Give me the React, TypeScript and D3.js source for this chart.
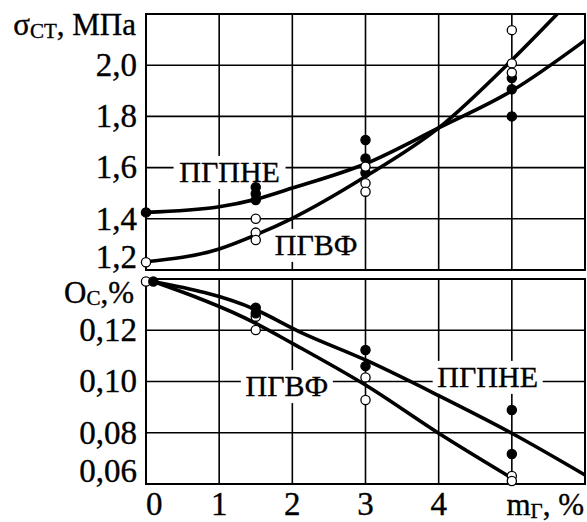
import React, { useEffect, useRef } from "react";
import * as d3 from "d3";

const width = 587;
const height = 522;

// x axis, mg %
const xTicks = [0, 1, 2, 3, 4];

// top panel: sigma_st, MPa
const stressTicks = [1.2, 1.4, 1.6, 1.8, 2.0];
const stressPgpneX = [0, 1.5, 1.5, 1.5, 3, 3, 3, 5, 5, 5];
const stressPgpneY = [1.425, 1.523, 1.498, 1.473, 1.708, 1.636, 1.58, 1.95, 1.906, 1.8];
const stressPgvfX = [0, 1.5, 1.5, 1.5, 3, 3, 3, 5, 5, 5];
const stressPgvfY = [1.23, 1.4, 1.346, 1.317, 1.604, 1.539, 1.506, 2.137, 2.007, 1.971];
const stressPgpneCurveX = [0, 1, 1.5, 2, 3, 4, 5, 6];
const stressPgpneCurveY = [1.425, 1.447, 1.476, 1.52, 1.615, 1.755, 1.9, 2.097];
const stressPgvfCurveX = [0, 1, 1.5, 2, 3, 4, 5, 5.62];
const stressPgvfCurveY = [1.232, 1.282, 1.337, 1.402, 1.565, 1.755, 2.02, 2.2];

// bottom panel: Oc, %
const oxTicks = [0.06, 0.08, 0.1, 0.12];
const oxPgpneX = [0.1, 1.5, 1.5, 3, 3, 5, 5];
const oxPgpneY = [0.139, 0.1288, 0.1266, 0.1123, 0.106, 0.0889, 0.0717];
const oxPgvfX = [0, 1.5, 1.5, 3, 3, 5, 5];
const oxPgvfY = [0.139, 0.1253, 0.1201, 0.1016, 0.0928, 0.0631, 0.0612];
const oxPgpneLineX = [0.1, 1.5, 2.1, 3, 4, 5, 6];
const oxPgpneLineY = [0.139, 0.128, 0.1194, 0.1084, 0.0945, 0.0798, 0.0635];
const oxPgvfLineX = [0.1, 1.5, 2, 3, 4, 5];
const oxPgvfLineY = [0.139, 0.1227, 0.1149, 0.0986, 0.0798, 0.0623];

const font = "Liberation Serif";
const fs = 33;
const labelFs = 30;

const zip = (xs, ys) => xs.map((x, i) => [x, ys[i]]);

// serif text, a little heavier like the scanned original
const styleText = (sel, size) =>
  sel
    .style("font-family", font)
    .style("font-size", size + "px")
    .attr("fill", "#000")
    .attr("stroke", "#000")
    .attr("stroke-width", 0.35);

const App = () => {
  const ref = useRef(null);

  useEffect(() => {
    const svg = d3.select(ref.current);
    svg.selectAll("*").remove();

    const left = 146;
    const right = 585;
    const x = d3.scaleLinear().domain([0, 6]).range([left, right]);

    const drawPanel = (opts) => {
      const { y, ticks, top, bottom, curves, filled, open, labels, id, openOnTop } = opts;
      const g = svg.append("g");

      g.append("clipPath")
        .attr("id", id)
        .append("rect")
        .attr("x", left)
        .attr("y", top)
        .attr("width", right - left)
        .attr("height", bottom - top);

      // grid
      g.selectAll(".vgrid")
        .data(d3.range(1, 6))
        .enter()
        .append("line")
        .attr("x1", (d) => x(d))
        .attr("x2", (d) => x(d))
        .attr("y1", top)
        .attr("y2", bottom)
        .attr("stroke", "#000")
        .attr("stroke-width", 1.6);

      g.selectAll(".hgrid")
        .data(ticks)
        .enter()
        .append("line")
        .attr("x1", left)
        .attr("x2", right)
        .attr("y1", (d) => y(d))
        .attr("y2", (d) => y(d))
        .attr("stroke", "#000")
        .attr("stroke-width", 1.6);

      g.append("rect")
        .attr("x", left)
        .attr("y", top)
        .attr("width", right - left)
        .attr("height", bottom - top)
        .attr("fill", "none")
        .attr("stroke", "#000")
        .attr("stroke-width", 2);

      // tick labels
      styleText(
        g.selectAll(".ytick")
          .data(ticks)
          .enter()
          .append("text")
          .attr("x", 137)
          .attr("y", (d) => Math.min(y(d) + fs * 0.33, bottom - 2))
          .attr("text-anchor", "end"),
        fs
      ).text((d) => d3.format(ticks[0] < 1 ? ".2f" : ".1f")(d).replace(".", ","));

      // curve labels with white background
      labels.forEach((l) => {
        g.append("rect")
          .attr("x", x(l.x) - l.w / 2)
          .attr("y", y(l.y) - 26)
          .attr("width", l.w)
          .attr("height", 33)
          .attr("fill", "#fff");
        styleText(
          g.append("text")
            .attr("x", x(l.x))
            .attr("y", y(l.y))
            .attr("text-anchor", "middle"),
          labelFs
        ).text(l.text);
      });

      const line = d3
        .line()
        .x((d) => x(d[0]))
        .y((d) => y(d[1]))
        .curve(d3.curveMonotoneX);

      g.selectAll(".curve")
        .data(curves)
        .enter()
        .append("path")
        .attr("d", line)
        .attr("fill", "none")
        .attr("stroke", "#000")
        .attr("stroke-width", 3.6)
        .attr("clip-path", `url(#${id})`);

      const drawDots = (pts, fill) => {
        g.append("g")
          .selectAll("circle")
          .data(pts)
          .enter()
          .append("circle")
          .attr("cx", (d) => x(d[0]))
          .attr("cy", (d) => y(d[1]))
          .attr("r", 4.6)
          .attr("fill", fill)
          .attr("stroke", "#000")
          .attr("stroke-width", 1.3);
      };

      if (openOnTop) {
        drawDots(filled, "#000");
        drawDots(open, "#fff");
      } else {
        drawDots(open, "#fff");
        drawDots(filled, "#000");
      }
    };

    const yStress = d3.scaleLinear().domain([1.2, 2.2]).range([270, 14]);
    drawPanel({
      id: "clipTop",
      y: yStress,
      ticks: stressTicks,
      top: 14,
      bottom: 270,
      curves: [
        zip(stressPgpneCurveX, stressPgpneCurveY),
        zip(stressPgvfCurveX, stressPgvfCurveY),
      ],
      filled: zip(stressPgpneX, stressPgpneY),
      open: zip(stressPgvfX, stressPgvfY),
      labels: [
        { text: "ПГПНЕ", x: 1.142, y: 1.544, w: 112 },
        { text: "ПГВФ", x: 2.326, y: 1.259, w: 92 },
      ],
      openOnTop: true,
    });

    const yOx = d3.scaleLinear().domain([0.06, 0.14]).range([484, 279]);
    drawPanel({
      id: "clipBottom",
      y: yOx,
      ticks: oxTicks,
      top: 279,
      bottom: 484,
      curves: [zip(oxPgpneLineX, oxPgpneLineY), zip(oxPgvfLineX, oxPgvfLineY)],
      filled: zip(oxPgpneX, oxPgpneY),
      open: zip(oxPgvfX, oxPgvfY),
      labels: [
        { text: "ПГВФ", x: 1.925, y: 0.0943, w: 92 },
        { text: "ПГПНЕ", x: 4.67, y: 0.0979, w: 110 },
      ],
      openOnTop: false,
    });

    // x tick labels
    styleText(
      svg
        .selectAll(".xtick")
        .data(xTicks)
        .enter()
        .append("text")
        .attr("x", (d) => x(d))
        .attr("y", 515)
        .attr("text-anchor", (d) => (d === 0 ? "start" : "middle")),
      fs
    ).text((d) => d);

    // axis titles
    const title = (tx, ty, main, sub, rest, dy) => {
      const t = styleText(
        svg.append("text").attr("x", tx).attr("y", ty).attr("text-anchor", "end"),
        31
      );
      t.append("tspan").text(main);
      t.append("tspan").style("font-size", "21px").attr("dy", dy).text(sub);
      t.append("tspan").attr("dy", -dy).text(rest);
    };
    title(136, 35, "σ", "СТ", ", МПа", 3);
    title(134, 303, "О", "С", ",%", 2);
    title(584, 515, "m", "Г", ", %", 3);

    return () => {
      svg.selectAll("*").remove();
    };
  }, []);

  return (
    <svg
      ref={ref}
      width={width}
      height={height}
      style={{ position: "absolute", left: 0, top: 0, background: "#fff" }}
    ></svg>
  );
};

export default App;
